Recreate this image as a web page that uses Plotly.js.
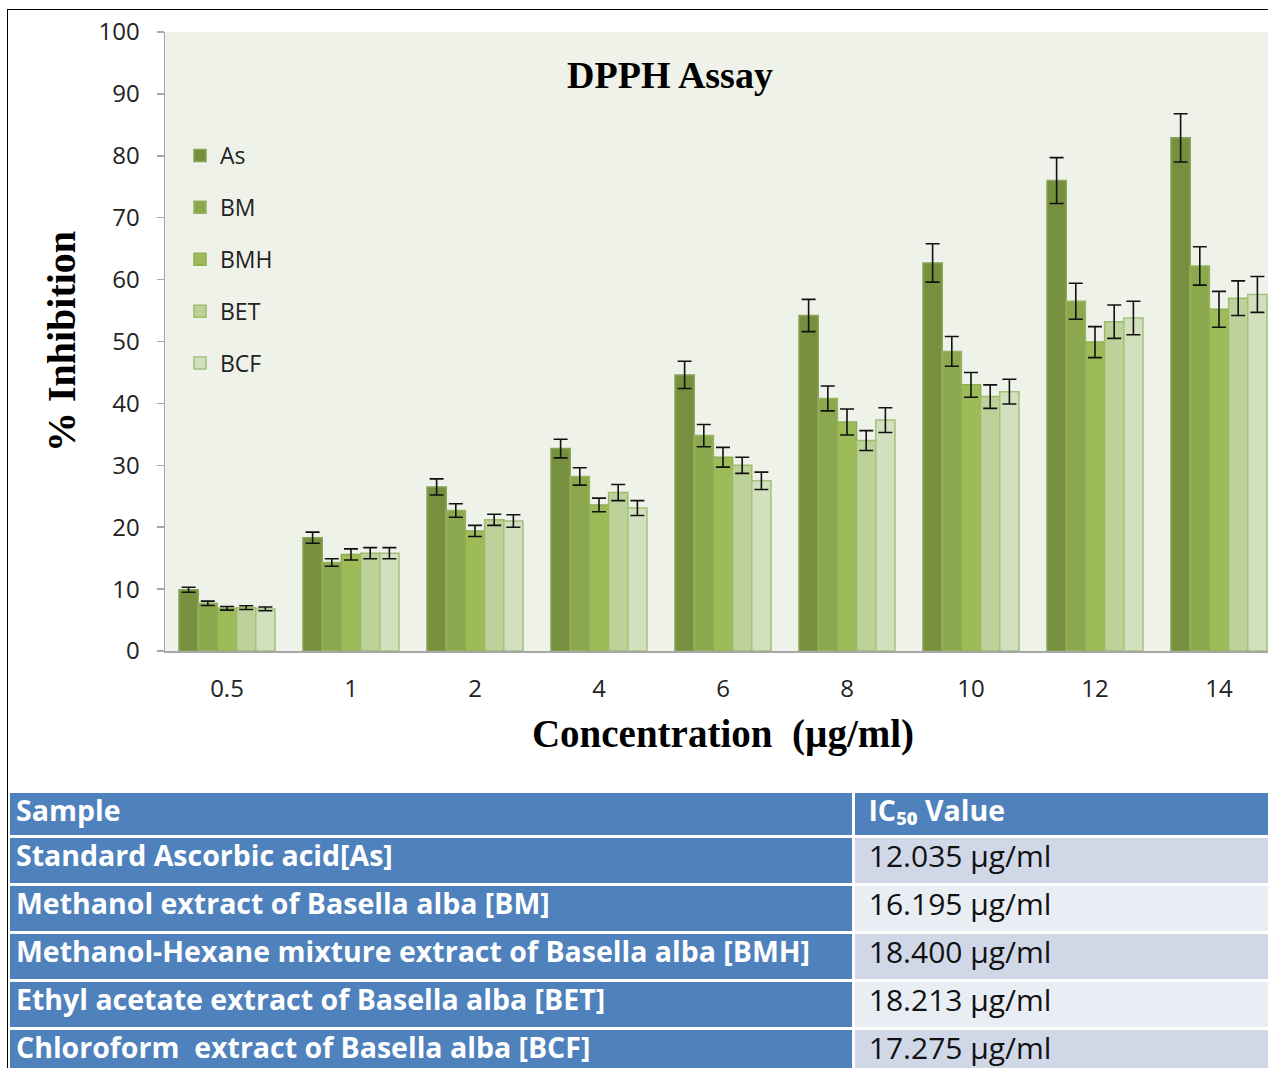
<!DOCTYPE html>
<html>
<head>
<meta charset="utf-8">
<script src="https://cdn.plot.ly/plotly-3.0.1.min.js"></script>
<style>
  html, body { margin: 0; padding: 0; background: #fff; overflow: hidden; width: 1268px; height: 1068px; }
  #chart { position: absolute; left: 0; top: 0; width: 1290px; height: 1100px; }
  #frame { position: absolute; left: 7px; top: 9px; width: 1300px; height: 1100px;
           border-left: 1px solid #000; border-top: 1px solid #000; pointer-events: none; }
</style>
</head>
<body>
<div id="chart"></div>
<div id="frame"></div>
<script>
// ---- data ----
const concentrations = ['0.5', '1', '2', '4', '6', '8', '10', '12', '14'];
const seriesNames = ['As', 'BM', 'BMH', 'BET', 'BCF'];
const valAs  = [9.9, 18.3, 26.5, 32.7, 44.6, 54.2, 62.7, 76.0, 82.9];
const valBM  = [7.7, 14.3, 22.7, 28.2, 34.8, 40.8, 48.4, 56.5, 62.2];
const valBMH = [6.9, 15.6, 19.4, 23.6, 31.3, 37.0, 43.0, 49.9, 55.2];
const valBET = [7.0, 15.8, 21.2, 25.6, 30.0, 34.0, 41.1, 53.2, 57.0];
const valBCF = [6.8, 15.8, 21.0, 23.1, 27.5, 37.3, 41.9, 53.8, 57.6];
const errAs  = [0.4, 0.9, 1.3, 1.5, 2.2, 2.6, 3.1, 3.7, 3.9];
const errBM  = [0.35, 0.6, 1.1, 1.4, 1.8, 2.0, 2.4, 2.9, 3.1];
const errBMH = [0.3, 0.9, 0.9, 1.1, 1.6, 2.1, 2.0, 2.5, 2.9];
const errBET = [0.3, 0.9, 0.9, 1.3, 1.3, 1.6, 1.9, 2.7, 2.8];
const errBCF = [0.3, 0.9, 1.0, 1.2, 1.4, 2.0, 2.0, 2.7, 2.9];
const yTicks = [0, 10, 20, 30, 40, 50, 60, 70, 80, 90, 100];

const sampleHeader = 'Sample';
const ic50Header = 'IC₅₀ Value';
const samples = [
  'Standard Ascorbic acid[As]',
  'Methanol extract of Basella alba [BM]',
  'Methanol-Hexane mixture extract of Basella alba [BMH]',
  'Ethyl acetate extract of Basella alba [BET]',
  'Chloroform  extract of Basella alba [BCF]'
];
const ic50 = ['12.035 µg/ml', '16.195 µg/ml', '18.400 µg/ml', '18.213 µg/ml', '17.275 µg/ml'];

// ---- styling ----
const values = [valAs, valBM, valBMH, valBET, valBCF];
const errors = [errAs, errBM, errBMH, errBET, errBCF];
const fills = ['#77903f', '#8ca84f', '#9dbc59', '#bdd19b', '#d3e0c0'];
const edges = ['#88a354', '#96b35e', '#8eae52', '#9dbb6a', '#a4c07a'];

const W = 1290, H = 1100, ML = 8, MR = 9, MT = 32, MB = 0;
const PW = W - ML - MR, PH = H - MT - MB;
const px = x => (x - ML) / PW;
const py = y => (H - MB - y) / PH;
const nb = s => s.replace(/ /g, '\u00a0');   // keep each cell on one line

const traces = seriesNames.map((name, i) => ({
  type: 'bar',
  name: name,
  x: concentrations,
  y: values[i],
  legendgroup: name,
  marker: { color: fills[i], line: { color: edges[i], width: 1.5 } },
  error_y: { type: 'data', array: errors[i], visible: true, color: '#111', thickness: 1.6, width: 7 },
  xaxis: 'x', yaxis: 'y'
}));

const tableFont = 'Open Sans, sans-serif';
const tableTop = py(791.5);
const colSplit = px(853);

traces.push({
  type: 'table',
  domain: { x: [0, colSplit], y: [0, tableTop] },
  header: {
    values: [nb(sampleHeader)],
    align: 'left',
    height: 45,
    fill: { color: '#4f81bd' },
    line: { color: '#ffffff', width: 3 },
    font: { family: tableFont, size: 28.5, color: '#ffffff', weight: 'bold' }
  },
  cells: {
    values: [samples.map(nb)],
    align: 'left',
    height: 48,
    fill: { color: '#4f81bd' },
    line: { color: '#ffffff', width: 3 },
    font: { family: tableFont, size: 28.5, color: '#ffffff', weight: 'bold' }
  }
});

traces.push({
  type: 'table',
  domain: { x: [colSplit, 1], y: [0, tableTop] },
  header: {
    values: [nb(ic50Header)],
    align: 'left',
    prefix: '\u00a0',
    height: 45,
    fill: { color: '#4f81bd' },
    line: { color: '#ffffff', width: 3 },
    font: { family: tableFont, size: 28.5, color: '#ffffff', weight: 'bold' }
  },
  cells: {
    values: [ic50.map(nb)],
    align: 'left',
    prefix: '\u00a0',
    height: 48,
    fill: { color: [ic50.map((_, k) => k % 2 === 0 ? '#d0d8e8' : '#e9edf4')] },
    line: { color: '#ffffff', width: 3 },
    font: { family: tableFont, size: 30, color: '#111111' }
  }
});

const layout = {
  width: W, height: H,
  margin: { l: ML, r: MR, t: MT, b: MB, pad: 0 },
  paper_bgcolor: '#ffffff',
  plot_bgcolor: '#eff2e9',
  barmode: 'group',
  bargap: 0.226,
  bargroupgap: 0,
  showlegend: true,
  title: {
    text: '<b>DPPH Assay</b>',
    font: { family: 'Liberation Serif, serif', size: 38, color: '#000' },
    xref: 'container', yref: 'container',
    x: 670 / W, xanchor: 'center',
    y: 1 - 75 / H, yanchor: 'middle'
  },
  xaxis: {
    domain: [px(165), 1],
    type: 'category',
    range: [-0.5, 8.5],
    showline: true, linecolor: '#a6a6a6', linewidth: 1.5,
    ticks: 'outside', ticklen: 16, tickcolor: 'rgba(0,0,0,0)',
    tickfont: { family: 'Open Sans, sans-serif', size: 24, color: '#222' },
    showgrid: false, zeroline: false, fixedrange: true,
    title: {
      text: '<b>Concentration  (µg/ml)</b>',
      font: { family: 'Liberation Serif, serif', size: 39, color: '#000' },
      standoff: 16
    }
  },
  yaxis: {
    domain: [py(651), 1],
    range: [0, 100],
    tickvals: yTicks,
    showline: true, linecolor: '#a6a6a6', linewidth: 1.5,
    ticks: 'outside', ticklen: 7, tickcolor: '#a6a6a6', tickwidth: 1.5,
    ticklabelstandoff: 12,
    tickfont: { family: 'Open Sans, sans-serif', size: 24, color: '#222' },
    showgrid: false, zeroline: false, fixedrange: true,
    title: {
      text: '<b>% Inhibition</b>',
      font: { family: 'Liberation Serif, serif', size: 40, color: '#000' },
      standoff: 10
    }
  },
  legend: {
    x: px(180), y: py(134), xanchor: 'left', yanchor: 'top',
    bgcolor: 'rgba(0,0,0,0)',
    traceorder: 'grouped',
    tracegroupgap: 19,
    font: { family: 'Open Sans, sans-serif', size: 23, color: '#222' },
    itemwidth: 30
  }
};

Plotly.newPlot('chart', traces, layout, { displayModeBar: false, staticPlot: true });
</script>
</body>
</html>
